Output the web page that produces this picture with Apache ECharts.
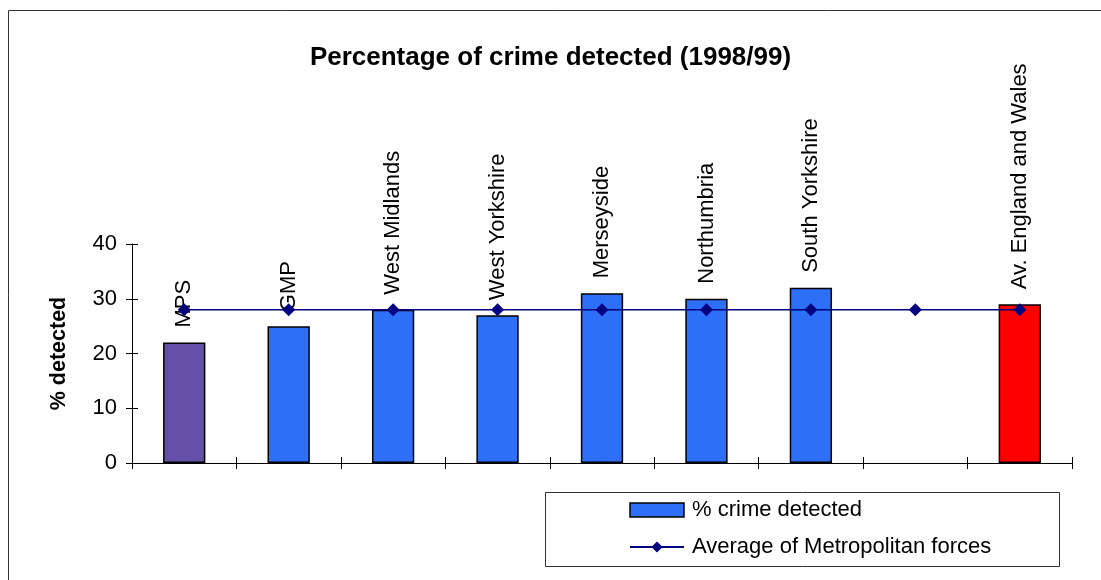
<!DOCTYPE html>
<html>
<head>
<meta charset="utf-8">
<script src="https://cdn.jsdelivr.net/npm/echarts@6/dist/echarts.min.js"></script>
<style>html,body{margin:0;padding:0;background:#fff}#c{width:1101px;height:580px}</style>
</head>
<body>
<div id="c"></div>
<script>
const categories = ['MPS', 'GMP', 'West Midlands', 'West Yorkshire', 'Merseyside', 'Northumbria', 'South Yorkshire', '', 'Av. England and Wales'];
const crimeDetected = [22, 25, 28, 27, 31, 30, 32, null, 29];
const metroAverage = [28, 28, 28, 28, 28, 28, 28, 28, 28];
const yTicks = [0, 10, 20, 30, 40];

const FONT = 'Liberation Sans, Arial, sans-serif';
const BLUE = '#2D6FF6';
const specialColors = { 'MPS': '#6450A8', 'Av. England and Wales': '#FF0000' };

const barData = crimeDetected.map((v, i) => {
  if (v === null) return '-';
  const c = specialColors[categories[i]];
  return c ? { value: v, itemStyle: { color: c } } : v;
});

const GRID = { left: 132, right: 29, top: 244, bottom: 117 };
const gridW = 1101 - GRID.left - GRID.right;
const gridH = 580 - GRID.top - GRID.bottom;

const chart = echarts.init(document.getElementById('c'), null, { renderer: 'canvas' });
const tickStyle = { color: '#000', width: 1 };
chart.setOption({
  animation: false,
  backgroundColor: '#fff',
  textStyle: { fontFamily: FONT },
  title: {
    text: 'Percentage of crime detected (1998/99)',
    left: 'center', top: 45, padding: [0, 0, 0, 18],
    textStyle: { fontFamily: FONT, fontSize: 26, fontWeight: 'bold', color: '#000' }
  },
  graphic: [
    { type: 'rect', shape: { x: 8.5, y: 10.5, width: 1110, height: 600 }, style: { fill: 'none', stroke: '#333', lineWidth: 1 }, silent: true },
    { type: 'rect', shape: { x: 545.5, y: 492.5, width: 514, height: 74 }, style: { fill: '#fff', stroke: '#333', lineWidth: 1 }, silent: true, z: 0 }
  ],
  legend: {
    orient: 'vertical', left: 629, top: 499, padding: 0, itemGap: 15,
    itemWidth: 54, itemHeight: 14,
    textStyle: { fontFamily: FONT, fontSize: 22, color: '#000', padding: [0, 0, 0, 3] },
    data: [
      { name: '% crime detected', icon: 'rect', itemStyle: { color: BLUE, borderColor: '#000', borderWidth: 1.5 } },
      { name: 'Average of Metropolitan forces' }
    ],
    z: 10
  },
  grid: GRID,
  xAxis: [
    { type: 'category', data: categories, boundaryGap: true,
      axisLine: { show: true, lineStyle: tickStyle },
      axisTick: { show: true, interval: 0, length: 6, lineStyle: tickStyle },
      axisLabel: { show: false }, splitLine: { show: false } },
    { type: 'category', data: categories, position: 'top', offset: -gridH, boundaryGap: true,
      axisLine: { show: true, lineStyle: { color: 'rgba(0,0,0,0)' } },
      axisTick: { show: true, interval: 0, length: 6, lineStyle: tickStyle },
      axisLabel: { show: false }, splitLine: { show: false } }
  ],
  yAxis: [
    { type: 'value', min: yTicks[0], max: yTicks[yTicks.length - 1], interval: 10,
      name: '% detected', nameLocation: 'middle', nameGap: 62,
      nameTextStyle: { fontFamily: FONT, fontSize: 21.5, fontWeight: 'bold', color: '#000' },
      axisLine: { show: true, lineStyle: tickStyle },
      axisTick: { show: true, length: 6, lineStyle: tickStyle },
      axisLabel: { fontFamily: FONT, fontSize: 22, color: '#000', margin: 15 },
      splitLine: { show: false } },
    { type: 'value', min: yTicks[0], max: yTicks[yTicks.length - 1], interval: 10,
      position: 'right', offset: -gridW,
      axisLine: { show: true, lineStyle: { color: 'rgba(0,0,0,0)' } },
      axisTick: { show: true, length: 6, lineStyle: tickStyle },
      axisLabel: { show: false }, splitLine: { show: false } }
  ],
  series: [
    { name: '% crime detected', type: 'bar', data: barData, barWidth: '40.5%',
      itemStyle: { color: BLUE, borderColor: '#000', borderWidth: 1.5 },
      label: { show: true, formatter: '{b}', position: 'top', distance: 15, rotate: 90,
        align: 'left', verticalAlign: 'middle', fontFamily: FONT, fontSize: 22, color: '#000' },
      z: 2 },
    { name: 'Average of Metropolitan forces', type: 'line', data: metroAverage,
      symbol: 'diamond', symbolSize: 13,
      lineStyle: { color: '#000080', width: 1.5 }, itemStyle: { color: '#000080' }, z: 3 }
  ]
});
</script>
</body>
</html>
